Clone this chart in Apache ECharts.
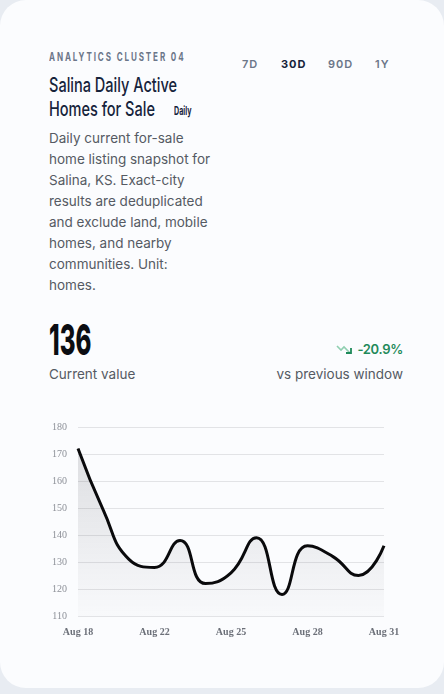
<!DOCTYPE html>
<html><head><meta charset="utf-8">
<script src="https://cdn.jsdelivr.net/npm/echarts@6/dist/echarts.min.js"></script>
<style>
html,body{margin:0;padding:0;width:444px;height:694px;background:#e8ecf2;overflow:hidden;}
.card{position:absolute;left:0;top:0;width:444px;height:688px;background:#fbfcfe;border-radius:26px;}
.cond{transform-origin:0 0;white-space:nowrap;}
.eyebrow{position:absolute;left:49px;top:50px;font-family:"Inter",sans-serif;font-weight:700;font-size:11.5px;letter-spacing:2.7px;color:#6b7689;transform:scaleX(0.70);}
.title{position:absolute;left:49px;font-family:"Inter",sans-serif;font-size:19.5px;line-height:24px;color:#16233b;font-weight:500;transform:scaleX(0.745);}
.badge{position:absolute;left:174px;top:104px;font-family:"Inter",sans-serif;font-size:11.5px;font-weight:700;color:#16233b;transform:scaleX(0.62);}
.tabs{position:absolute;top:57px;font-family:"Inter",sans-serif;font-weight:600;font-size:11px;letter-spacing:1px;color:#6b7689;}
.desc{position:absolute;left:49px;top:128px;width:168px;font-family:"Inter",sans-serif;font-size:13.5px;line-height:21px;color:#555a63;}
.big{position:absolute;left:49px;top:318px;font-family:"Inter",sans-serif;font-weight:800;font-size:43px;line-height:43px;color:#0b0d12;transform:scaleX(0.56);}
.lbl{position:absolute;top:366px;font-family:"Inter",sans-serif;font-size:13.5px;color:#555a63;}
.delta{position:absolute;right:41px;top:341px;font-family:"Inter",sans-serif;font-size:13px;font-weight:600;color:#1f8a5a;letter-spacing:-0.3px;}
#chart{position:absolute;left:0;top:400px;width:444px;height:260px;}
</style></head>
<body>
<div class="card"></div>
<div class="eyebrow cond">ANALYTICS CLUSTER 04</div>
<div class="title cond" style="top:73px">Salina Daily Active</div>
<div class="title cond" style="top:97px">Homes for Sale</div>
<div class="badge cond">Daily</div>
<div class="tabs" style="left:242px">7D</div>
<div class="tabs" style="left:281px;color:#16233b;font-weight:700">30D</div>
<div class="tabs" style="left:328px">90D</div>
<div class="tabs" style="left:375px">1Y</div>
<div class="desc">Daily current for-sale home listing snapshot for Salina, KS. Exact-city results are deduplicated and exclude land, mobile homes, and nearby communities. Unit: homes.</div>
<div class="big cond">136</div>
<div class="lbl" style="left:49px">Current value</div>
<div class="lbl" style="right:41px">vs previous window</div>
<div class="delta"><svg width="18" height="12" viewBox="0 0 18 12" style="vertical-align:-1px;margin-right:3px"><polyline points="1,3 5,7 8,4 14,10" fill="none" stroke="#8fcfb0" stroke-width="1.6"/><polyline points="10,10 15,10 15,5" fill="none" stroke="#1f8a5a" stroke-width="1.8"/></svg>-20.9%</div>
<div id="chart"></div>
<script>
const dates = ["Aug 18","Aug 19","Aug 21","Aug 22","Aug 23","Aug 24","Aug 25","Aug 26","Aug 27","Aug 28","Aug 29","Aug 30","Aug 31"];
const values = [172,149,131,128,138,122,126,139,118,136,132,125,136];
const yMin = 110, yMax = 180, yStep = 10;

const chart = echarts.init(document.getElementById('chart'));
chart.setOption({
  animation:false,
  grid:{left:78,right:60,top:27,bottom:44},
  xAxis:{type:'category',data:dates,boundaryGap:false,
    axisLine:{show:false},axisTick:{show:false},
    axisLabel:{interval:2,margin:11,color:'#6b6f78',fontFamily:'Liberation Serif, serif',fontWeight:'bold',fontSize:10,showMaxLabel:true}},
  yAxis:{type:'value',min:yMin,max:yMax,interval:yStep,
    axisLine:{show:false},axisTick:{show:false},
    axisLabel:{margin:11,color:'#8d9098',fontFamily:'Liberation Serif, serif',fontSize:10},
    splitLine:{lineStyle:{color:'#e2e3e6',width:1}}},
  series:[{type:'line',data:values,smooth:true,symbol:'none',
    lineStyle:{color:'#0a0a0c',width:3},
    areaStyle:{color:new echarts.graphic.LinearGradient(0,0,0,1,[{offset:0,color:'rgba(40,40,50,0.2)'},{offset:1,color:'rgba(40,40,50,0.02)'}])}}]
});
</script>
</body></html>
